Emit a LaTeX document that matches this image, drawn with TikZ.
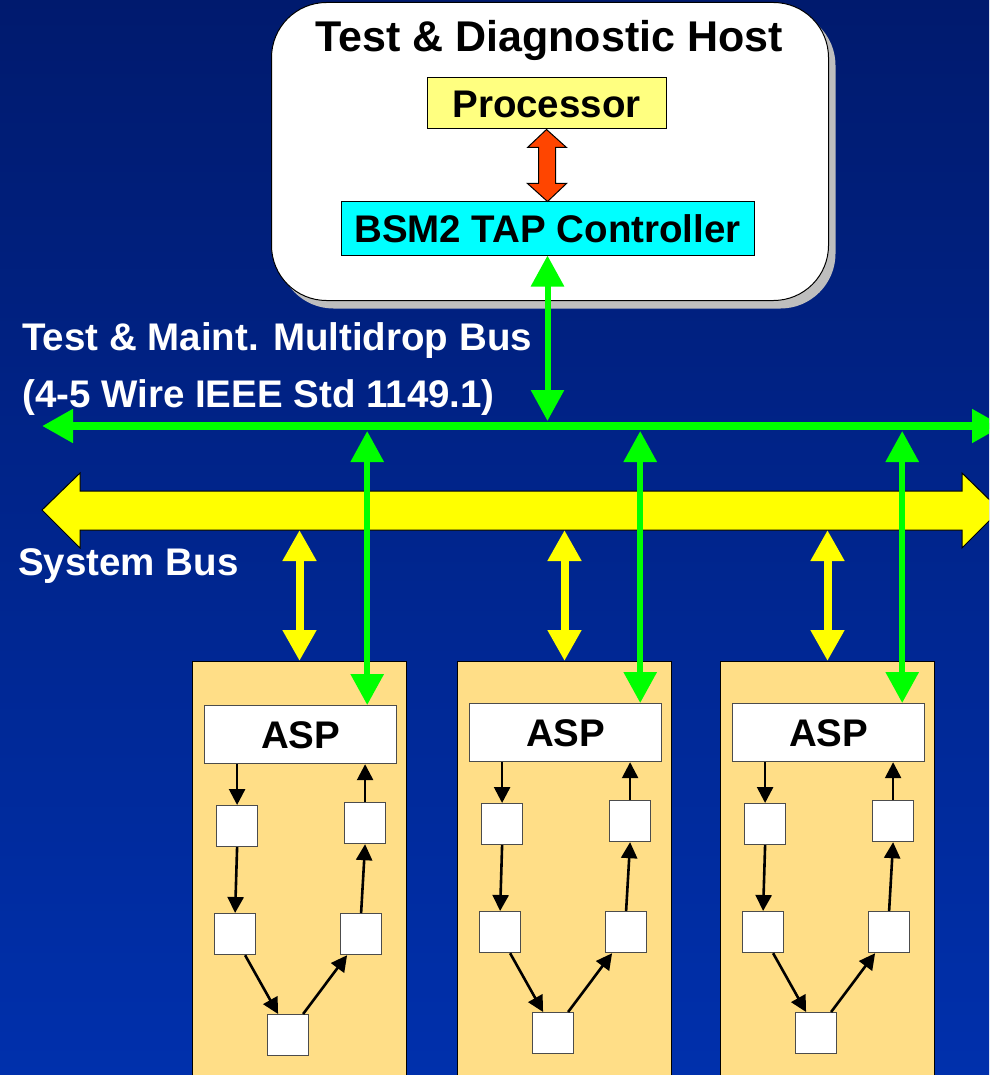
\documentclass[tikz,border=0pt]{standalone}
\usepackage{fontspec}
\setmainfont{Liberation Sans}
\usepackage{tikz}
\usetikzlibrary{arrows.meta,calc,shadows}
\definecolor{bgtop}{RGB}{0,26,110}
\definecolor{bgbottom}{RGB}{0,48,172}
\definecolor{procyellow}{RGB}{255,255,128}
\definecolor{tapcyan}{RGB}{0,255,255}
\definecolor{linkred}{RGB}{255,69,0}
\definecolor{maintgreen}{RGB}{0,255,0}
\definecolor{busyellow}{RGB}{255,255,0}
\definecolor{cardtan}{RGB}{255,222,135}
\definecolor{shadowgray}{RGB}{190,190,190}

\begin{document}
\begin{tikzpicture}[x=1pt,y=-1pt,
    boxtext/.style={font=\bfseries\fontsize{38.5}{46}\selectfont,text height=27.6pt,text depth=0pt},
    hostbox/.style={draw=black,line width=1pt,fill=white,rounded corners=55pt,
      drop shadow={shadow xshift=7pt,shadow yshift=-8pt,fill=shadowgray,opacity=1}},
    unitbox/.style={draw=black,line width=1pt,inner sep=0pt,boxtext},
    cardbox/.style={draw=black,line width=1pt,fill=cardtan,minimum width=214pt,minimum height=450pt,anchor=north west},
    aspbox/.style={draw=black!70,line width=1.2pt,fill=white,minimum width=192pt,minimum height=58pt,anchor=north west,inner sep=0pt,boxtext},
    cellbox/.style={draw=black!70,line width=1.2pt,fill=white,minimum size=41pt,anchor=north west,inner sep=0pt},
    flow/.style={draw=black,line width=2.6pt,-{Triangle[width=16pt,length=16pt]}},
    testlink/.style={draw=maintgreen,line width=6pt,arrows={Triangle[width=32pt,length=31pt]-Triangle[width=32pt,length=31pt]}},
    syslink/.style={draw=busyellow,line width=8pt,arrows={Triangle[width=32pt,length=31pt]-Triangle[width=32pt,length=31pt]}},
    bustext/.style={text=white,anchor=base west,inner sep=0pt,font=\bfseries\fontsize{38.5}{46}\selectfont}]

    \useasboundingbox (0,0) rectangle (989,1075);
    \clip (0,0) rectangle (989,1075);
    \shade[top color=bgtop,bottom color=bgbottom] (0,0) rectangle (989,1075);

    % Host
    \node[hostbox,minimum width=557pt,minimum height=298pt,anchor=north west] (host) at (271,2) {};
    \node[anchor=base,inner sep=0pt,font=\bfseries\fontsize{43}{50}\selectfont] (title) at (549,52) {Test \& Diagnostic Host};
    \node[unitbox,fill=procyellow,minimum width=239pt,minimum height=51pt] (proc) at (546.5,103.5) {Processor};
    \node[unitbox,fill=tapcyan,minimum width=413pt,minimum height=53pt] (ctrl) at (547.5,228.5) {BSM2 TAP Controller};

    % Processor <-> controller
    \draw[fill=linkred,line width=1pt] (proc.south) -- ++(20,18) -- ++(-11,0) -- ++(0,36) -- ++(11,0)
      -- (ctrl.north) -- ++(-20,-18) -- ++(11,0) -- ++(0,-36) -- ++(-11,0) -- cycle;

    % Bus levels
    \coordinate (gleft) at (42,426);
    \coordinate (gright) at (1003,426);
    \coordinate (gtop) at (0,421);
    \coordinate (gbot) at (0,431);
    \coordinate (sysbot) at (0,530);

    % Cards
    \foreach \i/\x/\dy/\gx in {1/192/2/-30, 2/457/0/-22, 3/720/0/-23} {
      \node[cardbox] (card\i) at (\x,661) {};
      \node[aspbox] (asp\i) at (\x+12,703+\dy) {ASP};
      \node[cellbox] (lt\i) at (\x+24,803+\dy) {};
      \node[cellbox] (rt\i) at (\x+152,800+\dy) {};
      \node[cellbox] (lm\i) at (\x+22,911+\dy) {};
      \node[cellbox] (rm\i) at (\x+148,911+\dy) {};
      \node[cellbox] (bt\i) at (\x+75,1012+\dy) {};
      \draw[flow] (lt\i.north |- asp\i.south) -- (lt\i.north);
      \draw[flow] (lt\i.south) -- (lm\i.north);
      \draw[flow] ($(lm\i.south)+(10,0)$) -- ($(bt\i.north)+(-10,0)$);
      \draw[flow] ($(bt\i.north)+(15,0)$) -- ($(rm\i.south)+(-14,0)$);
      \draw[flow] (rm\i.north) -- (rt\i.south);
      \draw[flow] (rt\i.north) -- (rt\i.north |- asp\i.south);
      \coordinate (gt\i) at ($(asp\i.north east)+(\gx,0)$);
    }

    % System bus
    \draw[fill=busyellow,line width=1pt] (42,510) -- (80,473) -- (80,491) -- (962,491) -- (962,473) -- (1000,510)
      -- (962,548) -- (962,530) -- (80,530) -- (80,548) -- cycle;
    \foreach \i in {1,2,3} {
      \draw[syslink] (card\i.north |- sysbot) -- (card\i.north);
    }

    % Test & maintenance bus
    \draw[testlink,line width=8pt] (gleft) -- (gright);
    \draw[testlink] (ctrl.south) -- (ctrl.south |- gtop);
    \foreach \i in {1,2,3} {
      \draw[testlink] (gt\i |- gbot) -- (gt\i);
    }

    % Labels
    \node[bustext] (tmbus) at (22,350) {Test \& Maint. Multidrop Bus};
    \node[bustext] (tmwire) at (22,407) {(4-5 Wire IEEE Std 1149.1)};
    \node[bustext] (sysname) at (18,575) {System Bus};
\end{tikzpicture}
\end{document}
